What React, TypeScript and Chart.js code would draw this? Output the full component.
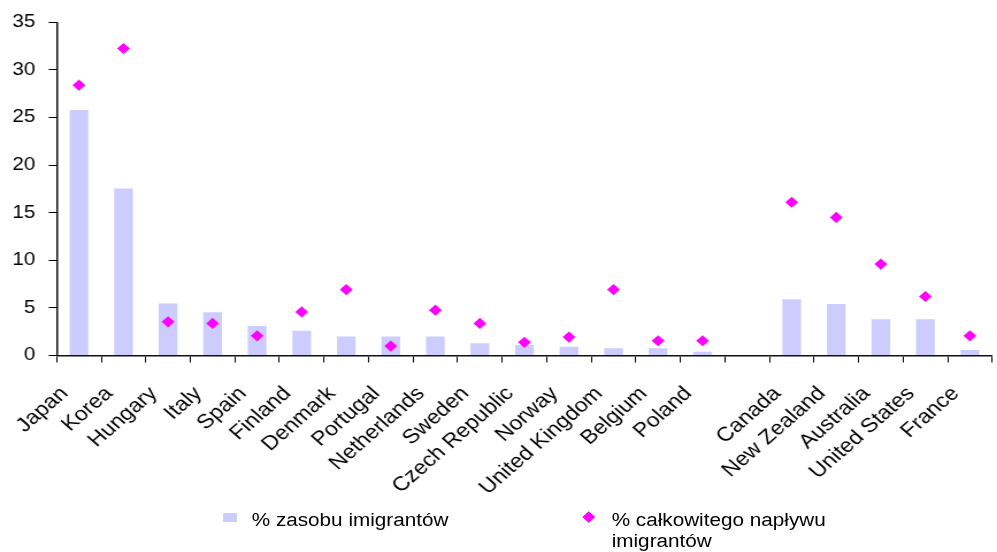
import { useEffect, useRef } from 'react';
import { Chart, registerables } from 'chart.js';

Chart.register(...registerables);

const categories = [
  'Japan', 'Korea', 'Hungary', 'Italy', 'Spain', 'Finland', 'Denmark', 'Portugal',
  'Netherlands', 'Sweden', 'Czech Republic', 'Norway', 'United Kingdom', 'Belgium',
  'Poland', '', 'Canada', 'New Zealand', 'Australia', 'United States', 'France',
];

const stockShare = [
  25.8, 17.55, 5.45, 4.55, 3.1, 2.6, 2.0, 2.0, 2.0, 1.28, 1.1, 0.92, 0.75, 0.75, 0.4,
  null, 5.9, 5.42, 3.8, 3.8, 0.58,
];

const inflowShare = [
  28.4, 32.25, 3.54, 3.37, 2.07, 4.58, 6.93, 0.99, 4.76, 3.37, 1.38, 1.94, 6.93, 1.55, 1.55,
  null, 16.1, 14.5, 9.6, 6.2, 2.07,
];

const legendLabels = ['% zasobu imigrantów', '% całkowitego napływu imigrantów'];

const yMin = 0;
const yMax = 35;
const yStep = 5;

const SX = 1.15;
const FONT = 'Liberation Sans, Arial, sans-serif';

export default function App() {
  const ref = useRef<HTMLCanvasElement>(null);

  useEffect(() => {
    const canvas = ref.current;
    if (!canvas) return;
    const chart = new Chart(canvas, {
      type: 'bar',
      data: {
        labels: categories,
        datasets: [
          {
            type: 'line',
            label: legendLabels[1],
            data: inflowShare,
            showLine: false,
            pointStyle: 'rectRot',
            pointRadius: 5.6,
            pointHoverRadius: 5.6,
            pointBackgroundColor: '#FF00FF',
            pointBorderColor: '#FF00FF',
            pointBorderWidth: 0,
            backgroundColor: '#FF00FF',
            borderColor: '#FF00FF',
            order: 0,
          } as any,
          {
            type: 'bar',
            label: legendLabels[0],
            data: stockShare,
            backgroundColor: '#CCCCFF',
            borderWidth: 0,
            categoryPercentage: 1,
            barPercentage: 0.42,
            order: 1,
          },
        ],
      },
      options: {
        responsive: false,
        animation: false,
        devicePixelRatio: 1,
        layout: { padding: { top: 21, left: 0, right: 5.3, bottom: 0 } },
        plugins: {
          legend: { display: false },
          tooltip: { enabled: false },
          title: { display: false },
        },
        scales: {
          x: {
            offset: true,
            grid: {
              display: true,
              offset: true,
              drawOnChartArea: false,
              drawTicks: true,
              tickLength: 7,
              color: '#000',
              lineWidth: 1,
            },
            border: { display: true, color: '#111', width: 1.5 },
            ticks: {
              autoSkip: false,
              maxRotation: 45,
              minRotation: 45,
              labelOffset: -12.5,
              padding: 19.5,
              color: '#000',
              font: { family: FONT, size: 20 },
            },
            afterFit: (scale: any) => {
              scale.height = 196.5;
            },
          },
          y: {
            min: yMin,
            max: yMax,
            grid: {
              display: true,
              drawOnChartArea: false,
              drawTicks: true,
              tickLength: 7,
              color: '#000',
              lineWidth: 1,
            },
            border: { display: true, color: '#111', width: 1.5 },
            ticks: {
              stepSize: yStep,
              padding: 11.5,
              color: '#000',
              font: { family: FONT, size: 18 },
            },
            afterFit: (scale: any) => {
              scale.width = 49.3;
            },
          },
        },
      },
    });
    return () => chart.destroy();
  }, []);

  const textStyle: any = {
    position: 'absolute',
    fontFamily: FONT,
    fontSize: 18,
    lineHeight: '21.6px',
    color: '#000',
    whiteSpace: 'normal',
  };

  return (
    <div
      style={{
        position: 'fixed',
        left: 0,
        top: 0,
        width: 997,
        height: 552,
        overflow: 'hidden',
        background: '#fff',
      }}
    >
      <div
        style={{
          position: 'absolute',
          left: 0,
          top: 0,
          width: 880,
          height: 552,
          transform: `scaleX(${SX})`,
          transformOrigin: '0 0',
        }}
      >
        <canvas ref={ref} width={880} height={552} style={{ display: 'block', width: 880, height: 552 }} />
        <div
          style={{
            position: 'absolute',
            left: 194.2,
            top: 513.3,
            width: 11.6,
            height: 8.5,
            background: '#CCCCFF',
          }}
        />
        <div style={{ ...textStyle, left: 218.9, top: 509.7, width: 260 }}>{legendLabels[0]}</div>
        <div
          style={{
            position: 'absolute',
            left: 511.6 - 3.95,
            top: 517.3 - 3.95,
            width: 7.9,
            height: 7.9,
            background: '#FF00FF',
            transform: 'rotate(45deg)',
          }}
        />
        <div style={{ ...textStyle, left: 531.9, top: 509.7, width: 200 }}>{legendLabels[1]}</div>
      </div>
    </div>
  );
}
